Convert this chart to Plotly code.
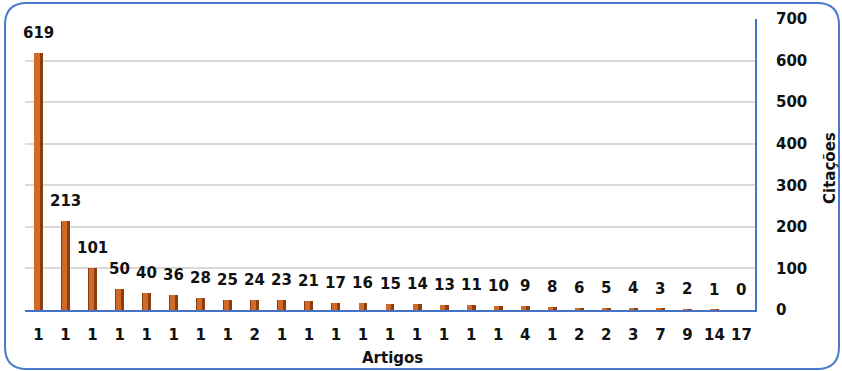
import plotly.graph_objects as go

citacoes = [619, 213, 101, 50, 40, 36, 28, 25, 24, 23, 21, 17, 16, 15, 14, 13, 11, 10, 9, 8, 6, 5, 4, 3, 2, 1, 0]
artigos = ["1", "1", "1", "1", "1", "1", "1", "1", "2", "1", "1", "1", "1", "1", "1", "1", "1", "1", "4", "1", "2", "2", "3", "7", "9", "14", "17"]
y_ticks = [0, 100, 200, 300, 400, 500, 600, 700]

W, H = 842, 371
L, R, T, B = 25, 87, 19, 61
pw, ph = W - L - R, H - T - B

def px(x):
    return (x - L) / pw

def py(y):
    return (H - B - y) / ph

x = list(range(len(citacoes)))
font = "DejaVu Sans"
txt = dict(family=font, size=15, color="#111111", weight="bold")

fig = go.Figure()
# dark body of each bar
fig.add_trace(go.Bar(
    x=x, y=citacoes, width=0.33, offset=-0.165,
    marker=dict(color="#8A3F12", line=dict(width=0)),
    hoverinfo="skip",
))
# lighter front face
fig.add_trace(go.Bar(
    x=x, y=citacoes, width=0.19, offset=-0.15,
    marker=dict(color="#D06A26", line=dict(width=0)),
))

fig.update_layout(barmode="overlay")

for xi, v in zip(x, citacoes):
    fig.add_annotation(x=xi, y=v, xref="x", yref="y", text=str(v),
                       showarrow=False, yanchor="bottom", xanchor="center",
                       yshift=9, font=txt)

# rounded border path in paper coords
x0, x1, y0, y1, r = 5, 839, 3, 369, 22
path = (f"M {px(x0 + r)},{py(y0)} L {px(x1 - r)},{py(y0)} "
        f"Q {px(x1)},{py(y0)} {px(x1)},{py(y0 + r)} "
        f"L {px(x1)},{py(y1 - r)} Q {px(x1)},{py(y1)} {px(x1 - r)},{py(y1)} "
        f"L {px(x0 + r)},{py(y1)} Q {px(x0)},{py(y1)} {px(x0)},{py(y1 - r)} "
        f"L {px(x0)},{py(y0 + r)} Q {px(x0)},{py(y0)} {px(x0 + r)},{py(y0)} Z")

fig.update_layout(
    width=W, height=H,
    margin=dict(l=L, r=R, t=T, b=B),
    paper_bgcolor="white", plot_bgcolor="white",
    showlegend=False,
    bargap=0,
    xaxis=dict(
        tickmode="array", tickvals=x, ticktext=artigos,
        range=[-0.5, len(x) - 0.5],
        showline=True, linecolor="#4472C4", linewidth=2,
        showgrid=False, ticks="",
        tickfont=txt,
        ticklabelstandoff=10,
        automargin=False,
        fixedrange=True,
    ),
    yaxis=dict(
        side="right", range=[0, 700], tickvals=y_ticks,
        showline=True, linecolor="#4472C4", linewidth=2,
        showgrid=True, gridcolor="#D9D9D9", gridwidth=2,
        zeroline=False, ticks="",
        tickfont=txt,
        ticklabelstandoff=16,
        automargin=False,
    ),
    shapes=[dict(type="path", path=path, xref="paper", yref="paper",
                 line=dict(color="#4A7BCB", width=2), layer="above")],
)
fig.add_annotation(text="Artigos", x=px(392), y=py(358), xref="paper", yref="paper",
                   xanchor="center", yanchor="middle", showarrow=False, font=txt)
fig.add_annotation(text="Citações", x=px(830), y=py(168), xref="paper", yref="paper",
                   xanchor="center", yanchor="middle", textangle=-90, showarrow=False,
                   font=txt)

fig.write_html("out.html")
